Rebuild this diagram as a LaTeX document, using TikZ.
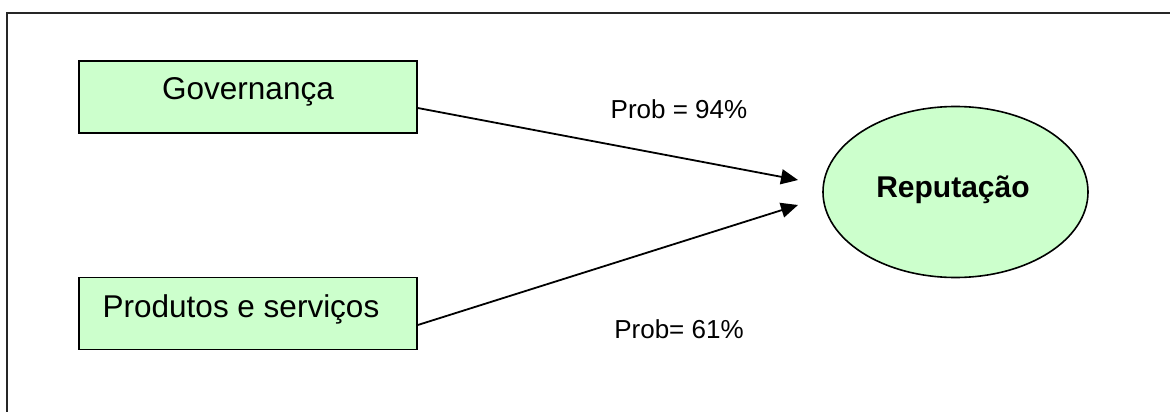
\documentclass[tikz,border=0pt]{standalone}
\usepackage{fontspec}
\setmainfont{Liberation Sans}
\usetikzlibrary{arrows.meta,shapes.geometric}
\definecolor{mint}{HTML}{CCFFCC}
\tikzset{
  box/.style={draw=black, line width=1.6pt, fill=mint, minimum width=338pt, minimum height=72pt, inner sep=0pt},
  oval/.style={ellipse, draw=black, line width=1.6pt, fill=mint, minimum width=265pt, minimum height=171pt, inner sep=0pt},
  boxtext/.style={anchor=base, inner sep=0pt, font=\fontsize{31.5}{36}\selectfont},
  probtext/.style={anchor=base, inner sep=0pt, font=\fontsize{26}{30}\selectfont},
  ovaltext/.style={anchor=base, inner sep=0pt, font=\fontsize{30}{36}\selectfont\bfseries},
  link/.style={line width=1.8pt, -{Triangle[length=17pt,width=15pt]}},
  frame/.style={line width=2.5pt, black!85}
}
\begin{document}
\begin{tikzpicture}[x=1pt, y=-1pt]
  \useasboundingbox (0,0) rectangle (1170,412);
  % outer frame edges
  \draw[frame] (7,412) -- (7,13) -- (1170,13);

  % causes
  \node[box] (gov) at (248,97) {};
  \node[boxtext] (govtxt) at (248,99.5) {Governança};
  \node[box] (prod) at (248,313.5) {};
  \node[boxtext] (prodtxt) at (241,317) {Produtos e serviços};

  % effect
  \node[oval] (rep) at (955.5,192) {};
  \node[ovaltext] (reptxt) at (953,197) {Reputação};

  % arrow tips in front of the ellipse
  \coordinate (tipA) at (798,180);
  \coordinate (tipB) at (798,205);

  \draw[link] ([yshift=-11pt]gov.east) -- (tipA);
  \draw[link] ([yshift=-11.5pt]prod.east) -- (tipB);

  % probabilities
  \node[probtext] (pa) at (679,118) {Prob = 94\%};
  \node[probtext] (pb) at (679,338) {Prob= 61\%};
\end{tikzpicture}
\end{document}
